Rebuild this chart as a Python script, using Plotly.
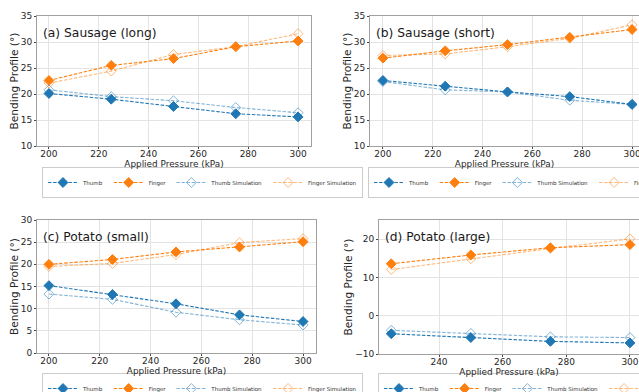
import plotly.graph_objects as go

# ---------------- data ----------------
pressure_full = [200, 225, 250, 275, 300]
pressure_large = [225, 250, 275, 300]

a_thumb = [20.1, 19.0, 17.6, 16.2, 15.6]
a_finger = [22.6, 25.5, 26.8, 29.1, 30.2]
a_thumb_sim = [20.8, 19.5, 18.7, 17.4, 16.4]
a_finger_sim = [22.1, 24.4, 27.6, 29.1, 31.6]

b_thumb = [22.6, 21.5, 20.4, 19.5, 18.0]
b_finger = [26.9, 28.3, 29.5, 30.9, 32.4]
b_thumb_sim = [22.4, 20.8, 20.4, 18.8, 18.0]
b_finger_sim = [27.4, 27.7, 29.1, 30.7, 33.3]

c_thumb = [15.2, 13.2, 11.1, 8.6, 7.1]
c_finger = [20.0, 21.1, 22.8, 23.9, 25.1]
c_thumb_sim = [13.3, 12.1, 9.2, 7.5, 6.3]
c_finger_sim = [19.5, 20.2, 22.2, 24.9, 25.8]

d_thumb = [-4.7, -5.7, -6.7, -7.1]
d_finger = [13.6, 15.9, 17.8, 18.6]
d_thumb_sim = [-3.8, -4.6, -5.5, -5.7]
d_finger_sim = [12.1, 14.9, 17.6, 20.1]

panel_titles = ["(a) Sausage (long)", "(b) Sausage (short)", "(c) Potato (small)", "(d) Potato (large)"]
series_names = ["Thumb", "Finger", "Thumb Simulation", "Finger Simulation"]

# ---------------- style ----------------
BLUE = "#1f77b4"
ORANGE = "#ff7f0e"
BLUE_L = "rgba(31,119,180,0.55)"
ORANGE_L = "rgba(255,127,14,0.55)"
FONT = "DejaVu Sans"
W, H = 639, 392

panels = [
    dict(x=pressure_full, s=[a_thumb, a_finger, a_thumb_sim, a_finger_sim],
         xd=[37, 311], yd=[16, 146], xr=[195.2, 305.2], yr=[10, 35], dy=5,
         leg=dict(x=42, y=167)),
    dict(x=pressure_full, s=[b_thumb, b_finger, b_thumb_sim, b_finger_sim],
         xd=[370, 639], yd=[16, 146], xr=[194.8, 302.8], yr=[10, 35], dy=5,
         leg=dict(x=368, y=167)),
    dict(x=pressure_full, s=[c_thumb, c_finger, c_thumb_sim, c_finger_sim],
         xd=[37, 316], yd=[220, 353], xr=[195.3, 305.1], yr=[0, 30], dy=5,
         leg=dict(x=42, y=373)),
    dict(x=pressure_large, s=[d_thumb, d_finger, d_thumb_sim, d_finger_sim],
         xd=[379, 639], yd=[220, 354], xr=[221.15, 302.83], yr=[-10, 25.05], dy=10,
         leg=dict(x=378, y=373)),
]

styles = [
    dict(color=BLUE, symbol="diamond", lcolor=BLUE, mline=BLUE),
    dict(color=ORANGE, symbol="diamond", lcolor=ORANGE, mline=ORANGE),
    dict(color=BLUE_L, symbol="diamond-open", lcolor=BLUE_L, mline=BLUE_L),
    dict(color=ORANGE_L, symbol="diamond-open", lcolor=ORANGE_L, mline=ORANGE_L),
]

fig = go.Figure()
layout = {}
for i, p in enumerate(panels):
    n = i + 1
    xa = "xaxis" if n == 1 else f"xaxis{n}"
    ya = "yaxis" if n == 1 else f"yaxis{n}"
    xr_ = "x" if n == 1 else f"x{n}"
    yr_ = "y" if n == 1 else f"y{n}"
    lg = "legend" if n == 1 else f"legend{n}"
    for j, (name, vals) in enumerate(zip(series_names, p["s"])):
        st = styles[j]
        fig.add_trace(go.Scatter(
            x=p["x"], y=vals, name=name, mode="lines+markers",
            xaxis=xr_, yaxis=yr_, legend=lg,
            line=dict(color=st["lcolor"], width=1.1, dash="3.5px,1.6px"),
            marker=dict(symbol=st["symbol"], size=7.6, color=st["color"],
                        line=dict(color=st["mline"], width=1)),
            showlegend=True,
        ))
    axis_common = dict(
        showgrid=True, gridcolor="#e3e3e3", gridwidth=1,
        showline=True, linecolor="#a0a0a0", linewidth=1, mirror=True,
        ticks="outside", ticklen=2, tickcolor="#444", tickwidth=0.8,
        tickfont=dict(family=FONT, size=9, color="#262626"),
        zeroline=False, automargin=False, ticklabeloverflow="allow",
    )
    layout[xa] = dict(
        axis_common, anchor=yr_,
        domain=[p["xd"][0] / W, p["xd"][1] / W],
        range=p["xr"], tick0=200, dtick=20, ticklabelstandoff=-3,
        title=dict(text="Applied Pressure (kPa)", font=dict(family=FONT, size=8.9, color="#262626"), standoff=0),
    )
    layout[ya] = dict(
        axis_common, anchor=xr_,
        domain=[1 - p["yd"][1] / H, 1 - p["yd"][0] / H],
        range=p["yr"], tick0=0, dtick=p["dy"],
        title=dict(text="Bending Profile (°)", font=dict(family=FONT, size=10.6, color="#262626"), standoff=0),
    )
    layout[lg] = dict(
        orientation="h", x=p["leg"]["x"] / W, y=1 - p["leg"]["y"] / H,
        xanchor="left", yanchor="top", xref="paper", yref="paper",
        font=dict(family=FONT, size=5.5, color="#333"),
        bgcolor="rgba(255,255,255,0)", bordercolor="#cccccc", borderwidth=1,
        itemwidth=30, tracegroupgap=0,
    )
    fig.add_annotation(
        text=panel_titles[i], xref=f"{xr_} domain", yref=f"{yr_} domain",
        x=4 / (p["xd"][1] - p["xd"][0]), y=1 - 8 / (p["yd"][1] - p["yd"][0]),
        xanchor="left", yanchor="top", showarrow=False,
        font=dict(family=FONT, size=12.3, color="#1a1a1a"),
    )

fig.update_layout(
    width=W, height=H,
    margin=dict(l=0, r=0, t=0, b=0, autoexpand=False),
    paper_bgcolor="white", plot_bgcolor="white",
    font=dict(family=FONT),
    **layout,
)

fig.write_html("out.html", config={"displayModeBar": False},
               post_script="document.body.style.margin='0px';")
